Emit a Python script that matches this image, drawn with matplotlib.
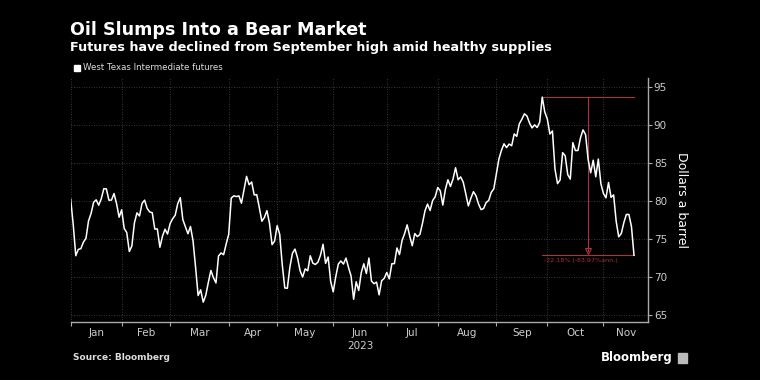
import matplotlib.pyplot as plt
from matplotlib.patches import Rectangle
import numpy as np

plt.rcParams["font.family"] = "DejaVu Sans"

# WTI front-month closes, 2022-12-30 then 2023 trading days by month
dec30 = [80.26]
jan = [76.93, 72.84, 73.67, 73.77, 74.63, 75.12, 77.41, 78.39, 79.86, 80.18,
       79.48, 80.33, 81.64, 81.62, 80.13, 80.15, 81.01, 79.68, 77.90, 78.87]
feb = [76.41, 75.88, 73.39, 74.11, 77.14, 78.47, 78.06, 79.72, 80.14, 79.06,
       78.59, 78.49, 76.34, 76.36, 73.95, 75.39, 76.32, 75.68, 77.05]
mar = [77.69, 78.16, 79.68, 80.46, 77.58, 76.66, 75.72, 76.68, 74.80, 71.33,
       67.61, 68.35, 66.74, 67.64, 69.33, 70.90, 69.96, 69.26, 72.81, 73.20,
       72.97, 74.37, 75.67]
apr = [80.42, 80.71, 80.61, 80.70, 79.74, 81.53, 83.26, 82.16, 82.52, 80.83,
       80.86, 79.16, 77.37, 77.87, 78.76, 77.07, 74.30, 74.76, 76.78]
may = [75.66, 71.66, 68.60, 68.56, 71.34, 73.16, 73.71, 72.56, 70.87, 70.04,
       71.11, 70.86, 72.83, 71.86, 71.69, 71.99, 72.91, 74.34, 71.83, 72.67,
       69.46, 68.09]
jun = [70.10, 71.74, 72.15, 71.74, 72.53, 71.29, 70.17, 67.12, 69.42, 68.27,
       70.62, 71.78, 70.50, 72.53, 69.51, 69.16, 69.37, 67.70, 69.56, 69.86,
       70.64]
jul = [69.79, 71.79, 71.80, 73.86, 72.99, 74.83, 75.75, 76.89, 75.42, 74.15,
       75.75, 75.35, 75.63, 77.07, 78.74, 79.63, 78.78, 80.09, 80.58, 81.80]
aug = [81.37, 79.49, 81.55, 82.82, 81.94, 82.92, 84.40, 82.82, 83.19, 82.51,
       80.99, 79.38, 80.39, 81.25, 80.72, 79.64, 78.89, 79.05, 79.83, 80.10,
       81.16, 81.63, 83.63]
sep = [85.55, 86.69, 87.54, 87.04, 87.51, 87.29, 88.84, 88.52, 90.16, 90.77,
       91.48, 91.20, 90.28, 89.63, 90.03, 89.68, 90.39, 93.68, 91.71, 90.79]
oct_ = [88.82, 89.23, 84.22, 82.31, 82.79, 86.38, 85.97, 83.49, 82.91, 87.69,
        86.66, 86.66, 88.32, 89.37, 88.75, 85.49, 83.74, 85.39, 83.21, 85.54,
        82.31, 81.02]
nov = [80.44, 82.46, 80.51, 80.82, 77.37, 75.33, 75.74, 77.17, 78.26, 78.26,
       76.66, 72.90]

months = [jan, feb, mar, apr, may, jun, jul, aug, sep, oct_, nov]
month_labels = ["Jan", "Feb", "Mar", "Apr", "May", "Jun", "Jul", "Aug",
                "Sep", "Oct", "Nov"]
yticks = [65, 70, 75, 80, 85, 90, 95]

prices = np.array(dec30 + sum(months, []))
x = np.arange(len(prices))

# month boundaries (on trading-day index)
bounds = [0]
pos = len(dec30)
for m in months[:-1]:
    pos += len(m)
    bounds.append(pos - 1)
xmax = len(prices) - 1 + 5.6
label_pos = [(a + b) / 2 for a, b in zip(bounds, bounds[1:] + [xmax])]

fig = plt.figure(figsize=(7.6, 3.8), dpi=100, facecolor="black")
ax = fig.add_axes([0.093, 0.152, 0.760, 0.643])
ax.set_facecolor("black")

ax.plot(x, prices, color="white", lw=1.1, zorder=3)

# drawdown annotation
red = "#a83538"
i_hi = int(np.argmax(prices))
i_end = len(prices) - 1
hi, lo = prices[i_hi], prices[i_end]
mid = (i_hi + i_end) / 2
ax.plot([i_hi, i_end], [hi, hi], color=red, lw=0.8, zorder=2)
ax.plot([i_hi, i_end], [lo, lo], color=red, lw=0.8, zorder=2)
ax.plot([mid, mid], [hi, lo + 0.5], color=red, lw=0.8, zorder=2)
ax.plot([mid], [lo + 0.6], marker="v", ms=5, mfc="none", mec=red, mew=0.8,
        zorder=2)
pct = (lo / hi - 1) * 100
ax.text(i_hi + 0.5, lo - 0.35, "%.2f%% (-83.97%%ann.)" % pct, color=red,
        fontsize=4.6, va="top", ha="left")

ax.set_xlim(0, xmax)
ax.set_ylim(64.1, 96.2)

ax.set_xticks(bounds)
ax.set_xticklabels([])
ax.set_xticks(label_pos, minor=True)
ax.set_xticklabels(month_labels, minor=True)
ax.tick_params(axis="x", which="major", length=3, color="#aaaaaa", direction="out")
ax.tick_params(axis="x", which="minor", length=0, labelsize=7.5,
               labelcolor="#cccccc", pad=4)

ax.yaxis.tick_right()
ax.set_yticks(yticks)
ax.tick_params(axis="y", length=3, color="#aaaaaa", labelsize=7.5,
               labelcolor="#cccccc", pad=1)
ax.yaxis.set_label_position("right")
ax.set_ylabel("Dollars a barrel", color="white", fontsize=9, rotation=270,
              labelpad=15)

ax.grid(True, which="major", color="#4a4a4a", ls=(0, (1, 2)), lw=0.6)
for s in ["top", "left"]:
    ax.spines[s].set_visible(False)
for s in ["bottom", "right"]:
    ax.spines[s].set_color("#aaaaaa")
    ax.spines[s].set_linewidth(1)

ax.text(label_pos[5], -0.075, "2023", transform=ax.get_xaxis_transform(),
        ha="center", va="top", color="#cccccc", fontsize=7.5)

fig.text(0.092, 1 - 35 / 380, "Oil Slumps Into a Bear Market", color="white",
         fontsize=12.6, fontweight="bold", va="baseline")
fig.text(0.092, 1 - 51 / 380,
         "Futures have declined from September high amid healthy supplies",
         color="white", fontsize=9.2, fontweight="bold", va="baseline")
fig.patches.append(Rectangle((74 / 760, 1 - 71 / 380), 6 / 760, 6 / 380,
                             transform=fig.transFigure, color="white"))
fig.text(83 / 760, 1 - 68 / 380, "West Texas Intermediate futures",
         color="#dddddd", fontsize=6.2, va="center")
fig.text(73 / 760, 1 - 358 / 380, "Source: Bloomberg", color="#dddddd",
         fontsize=6.5, fontweight="bold", va="center")
fig.text(673 / 760, 1 - 358 / 380, "Bloomberg", color="white", fontsize=8.5,
         fontweight="bold", va="center", ha="right")
fig.patches.append(Rectangle((678 / 760, 1 - 363 / 380), 9 / 760, 10 / 380,
                             transform=fig.transFigure, color="#bbbbbb"))

fig.savefig("out.png", facecolor="black")
